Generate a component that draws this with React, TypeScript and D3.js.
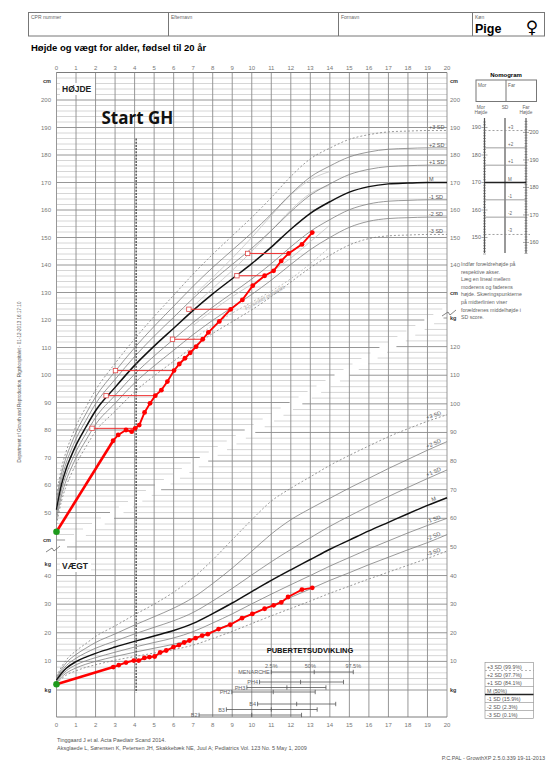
import React, { useEffect, useRef } from 'react'
import * as d3 from 'd3'

// reference curves, girls, height (cm)
const refHeightAges = [0, 0.25, 0.5, 0.75, 1, 1.5, 2, 3, 4, 5, 6, 7, 8, 9, 10, 11, 12, 13, 14, 15, 16, 17, 18, 19, 20]
const heightPlus3 = [56.4, 66.0, 72.3, 77.1, 81.4, 88.2, 94.5, 104.2, 113.1, 121.3, 129.0, 136.7, 143.9, 150.6, 157.3, 164.5, 172.2, 178.6, 182.5, 185.7, 187.4, 188.4, 188.7, 188.9, 188.9]
const heightPlus2 = [54.6, 64.0, 70.2, 74.9, 79.1, 85.8, 92.0, 101.3, 109.9, 117.7, 125.0, 132.3, 139.1, 145.4, 151.7, 158.5, 165.8, 172.0, 176.0, 179.3, 181.1, 182.1, 182.4, 182.6, 182.6]
const heightPlus1 = [52.8, 62.0, 68.1, 72.7, 76.8, 83.4, 89.5, 98.4, 106.7, 114.1, 121.0, 127.9, 134.3, 140.2, 146.1, 152.5, 159.4, 165.4, 169.5, 172.9, 174.8, 175.8, 176.1, 176.3, 176.3]
const heightMedian = [51, 60, 66, 70.5, 74.5, 81, 87, 95.5, 103.5, 110.5, 117, 123.5, 129.5, 135, 140.5, 146.5, 153, 158.8, 163, 166.5, 168.5, 169.5, 169.8, 170, 170]
const heightMinus1 = [49.2, 58.0, 63.9, 68.3, 72.2, 78.6, 84.5, 92.6, 100.3, 106.9, 113.0, 119.1, 124.7, 129.8, 134.9, 140.5, 146.6, 152.2, 156.5, 160.1, 162.2, 163.2, 163.5, 163.7, 163.7]
const heightMinus2 = [47.4, 56.0, 61.8, 66.1, 69.9, 76.2, 82.0, 89.7, 97.1, 103.3, 109.0, 114.7, 119.9, 124.6, 129.3, 134.5, 140.2, 145.6, 150.0, 153.7, 155.9, 156.9, 157.2, 157.4, 157.4]
const heightMinus3 = [45.6, 54.0, 59.7, 63.9, 67.6, 73.8, 79.5, 86.8, 93.9, 99.7, 105.0, 110.3, 115.1, 119.4, 123.7, 128.5, 133.8, 139.0, 143.5, 147.3, 149.6, 150.6, 150.9, 151.1, 151.1]

// early / late puberty tracks (light grey)
const pubertyTrackAges = [7, 8, 9, 10, 11, 12, 13, 14]
const earlyTrackA = [125.0, 131.5, 138.0, 145.0, 152.5, 160.0, 166.0, 169.0]
const earlyTrackB = [128.8, 135.5, 142.5, 150.0, 158.0, 165.5, 171.0, 174.0]
const lateTrackA = [118.0, 123.5, 128.5, 133.0, 137.5, 142.5, 148.5, 154.5]
const lateTrackB = [113.0, 118.0, 122.5, 126.5, 130.5, 135.0, 140.5, 146.5]

// reference curves, girls, weight (kg)
const refWeightAges = [0, 0.25, 0.5, 1, 1.5, 2, 3, 4, 5, 6, 7, 8, 9, 10, 11, 12, 13, 14, 15, 16, 17, 18, 19, 20]
const weightPlus3 = [4.8, 8.0, 10.5, 13.7, 16.2, 18.7, 22.4, 26.3, 30.0, 34.2, 39.2, 45.5, 52.5, 59.5, 66.0, 70.5, 74.5, 78.5, 82.0, 85.3, 88.5, 91.3, 93.9, 96.2]
const weightPlus2 = [4.3, 7.2, 9.5, 12.4, 14.6, 16.6, 19.6, 22.7, 25.6, 28.6, 32.3, 37.2, 42.6, 48.5, 54.5, 59.5, 63.4, 67.0, 70.6, 74.0, 77.4, 80.6, 83.8, 86.8]
const weightPlus1 = [3.8, 6.5, 8.5, 11.1, 13.0, 14.6, 17.1, 19.6, 21.9, 24.2, 27.1, 31.1, 35.5, 40.2, 44.8, 49.1, 53.2, 57.2, 60.8, 64.3, 67.6, 70.8, 73.9, 76.9]
const weightMedian = [3.4, 5.8, 7.6, 9.9, 11.5, 12.8, 15.0, 17.0, 18.9, 20.8, 23.3, 26.7, 30.4, 34.4, 38.3, 42.0, 45.6, 49.2, 52.4, 55.6, 58.6, 61.6, 64.5, 67.2]
const weightMinus1 = [3.0, 5.1, 6.7, 8.8, 10.2, 11.3, 13.2, 15.0, 16.6, 18.2, 20.4, 23.4, 26.6, 30.1, 33.5, 36.8, 40.0, 43.3, 46.3, 49.3, 52.1, 54.9, 57.5, 60.0]
const weightMinus2 = [2.5, 4.5, 5.9, 7.7, 9.0, 10.0, 11.7, 13.2, 14.6, 16.0, 17.9, 20.6, 23.4, 26.5, 29.5, 32.4, 35.3, 38.3, 41.0, 43.8, 46.4, 49.0, 51.5, 54.3]
const weightMinus3 = [2.1, 3.9, 5.2, 6.7, 7.9, 8.8, 10.4, 11.7, 12.9, 14.1, 15.7, 18.0, 20.5, 23.2, 25.9, 28.5, 31.1, 33.8, 36.3, 38.8, 41.2, 43.6, 46.0, 48.6]

const sdLabels = ['+3 SD', '+2 SD', '+1 SD', 'M', '-1 SD', '-2 SD', '-3 SD']
const legendLabels = ['+3 SD (99.9%)', '+2 SD (97.7%)', '+1 SD (84.1%)', 'M (50%)', '-1 SD (15.9%)', '-2 SD (2.3%)', '-3 SD (0.1%)']

// patient measurements
const heightAges = [0, 2.9, 3.16, 3.56, 3.85, 4.03, 4.24, 4.51, 4.79, 5.06, 5.37, 5.68, 6.02, 6.29, 6.58, 6.85, 7.15, 7.49, 7.78, 8.34, 8.92, 9.52, 10.05, 10.66, 11.12, 11.51, 11.89, 12.57, 13.1]
const heightValues = [43.0, 76.1, 78.2, 80.0, 79.4, 80.6, 81.8, 86.4, 89.7, 92.5, 94.5, 97.6, 101.6, 104.0, 106.1, 108.1, 110.3, 113.0, 115.5, 119.5, 123.9, 127.3, 132.5, 136.1, 137.9, 141.5, 144.2, 147.5, 151.8]
const weightAges = [0, 2.91, 3.19, 3.56, 3.96, 4.21, 4.5, 4.76, 5.03, 5.31, 5.62, 5.99, 6.27, 6.54, 6.81, 7.12, 7.46, 7.75, 8.3, 8.9, 9.5, 10.03, 10.66, 11.12, 11.51, 11.86, 12.57, 13.1]
const weightValues = [2.0, 8.0, 8.7, 9.6, 10.3, 10.3, 11.2, 11.5, 11.7, 13.1, 13.8, 15.0, 15.7, 16.6, 17.3, 18.1, 19.0, 19.5, 21.3, 22.8, 25.1, 26.6, 28.4, 29.6, 30.6, 32.5, 35.1, 35.7]

// bone age readings (age at x-ray, bone age, height)
const xrayAges = [4.03, 5.06, 6.02, 7.49, 8.92, 10.66, 11.89]
const boneAges = [1.82, 2.54, 3.02, 5.94, 6.78, 9.24, 9.79]
const xrayHeights = [80.6, 92.5, 101.6, 113.0, 123.9, 136.1, 144.2]

const ghStartAge = 4.08

// puberty development
const pubertyStages = ['MENARCHE', 'PH4', 'PH3', 'PH2', 'B4', 'B3', 'B2']
const puberty025 = [11.0, 10.4, 9.75, 8.98, 10.3, 8.7, 7.3]
const puberty50 = [13.2, 12.5, 11.8, 11.1, 12.3, 11.0, 10.0]
const puberty975 = [15.2, 14.7, 13.8, 13.25, 14.3, 13.35, 12.55]
const pubertyRowY = [672, 682, 687.5, 692, 704, 709.5, 715]

const ageTicks = d3.range(0, 21)
const heightTicks = [200, 190, 180, 170, 160, 150, 140, 130, 120, 110, 100, 90, 80, 70, 60, 50]
const weightTicksLeft = [40, 30, 20, 10]
const weightTicksRight = [120, 110, 100, 90, 80, 70, 60, 50, 40, 30, 20, 10]

const FONT = "'Liberation Sans', Arial, sans-serif"

export default function App() {
  const ref = useRef<SVGSVGElement>(null)

  useEffect(() => {
    const svg = d3.select(ref.current)
    svg.selectAll('*').remove()

    const x = d3.scaleLinear().domain([0, 20]).range([56.5, 447])
    const yH = d3.scaleLinear().domain([40, 210]).range([540, 72.5])
    const yW = d3.scaleLinear().domain([0, 130]).range([690, 318])
    const top = yH(210), bottom = 717

    svg.append('rect').attr('width', 546).attr('height', 761).attr('fill', '#fff')

    // header
    const head = svg.append('g').attr('font-family', FONT)
    head.append('rect').attr('x', 28.5).attr('y', 12.5).attr('width', 516).attr('height', 23.5)
      .attr('fill', 'none').attr('stroke', '#777')
    ;[168.5, 338.5, 472.5].forEach(d => head.append('line').attr('x1', d).attr('x2', d).attr('y1', 12.5).attr('y2', 36).attr('stroke', '#777'))
    ;[['CPR nummer', 31], ['Efternavn', 171], ['Fornavn', 341], ['Køn', 475]].forEach(([t, px]) =>
      head.append('text').attr('x', px).attr('y', 18.5).attr('font-size', 5).attr('fill', '#666').text(t as string))
    head.append('text').attr('x', 475).attr('y', 33).attr('font-size', 12.5).attr('font-weight', 'bold').text('Pige')
    head.append('text').attr('x', 532).attr('y', 33).attr('font-size', 17).attr('text-anchor', 'middle').attr('font-family', "'DejaVu Sans'").text('♀')
    head.append('text').attr('x', 31).attr('y', 51).attr('font-size', 9.5).attr('font-weight', 'bold').text('Højde og vægt for alder, fødsel til 20 år')

    // grid
    const grid = svg.append('g')
    const hLevels = d3.range(40, 211, 2)
    const wLevels = d3.range(0, 131, 2)
    const hEnd = (h: number) => Math.min(20, 2.74 + (h - 50) * 0.23)
    const wStart = (w: number) => Math.max(0, 0.54 + (w - 50) * 0.241)
    const drawLevels = (major: boolean) => {
      hLevels.filter(h => (h % 10 === 0) === major).forEach(h => {
        const e = hEnd(h)
        if (e <= 0) return
        grid.append('line').attr('x1', x(0)).attr('x2', x(e)).attr('y1', yH(h)).attr('y2', yH(h))
          .attr('stroke', major ? '#7c7c7c' : '#d6d6d6').attr('stroke-width', major ? 0.8 : 1)
      })
      wLevels.filter(w => (w % 10 === 0) === major).forEach(w => {
        const s = wStart(w)
        if (s >= 20) return
        grid.append('line').attr('x1', x(s)).attr('x2', x(20)).attr('y1', yW(w)).attr('y2', yW(w))
          .attr('stroke', major ? '#7c7c7c' : '#d6d6d6').attr('stroke-width', major ? 0.8 : 1)
      })
    }
    drawLevels(false)
    drawLevels(true)
    ageTicks.forEach(a => grid.append('line').attr('x1', x(a)).attr('x2', x(a)).attr('y1', top).attr('y2', bottom)
      .attr('stroke', '#8c8c8c').attr('stroke-width', 0.9))
    grid.append('line').attr('x1', x(0)).attr('x2', x(20)).attr('y1', top).attr('y2', top).attr('stroke', '#7c7c7c')
    grid.append('line').attr('x1', x(0)).attr('x2', x(20)).attr('y1', bottom).attr('y2', bottom).attr('stroke', '#7c7c7c')

    // axis labels
    const lab = svg.append('g').attr('font-family', FONT).attr('font-size', 6).attr('fill', '#777')
    ageTicks.forEach(a => {
      lab.append('text').attr('x', x(a)).attr('y', 69.5).attr('text-anchor', 'middle').text(a)
      lab.append('text').attr('x', x(a)).attr('y', 727).attr('text-anchor', 'middle').text(a)
    })
    heightTicks.forEach(h => lab.append('text').attr('x', 51).attr('y', yH(h) + 2).attr('text-anchor', 'end').text(h))
    heightTicks.filter(h => h >= 140).forEach(h => lab.append('text').attr('x', 450).attr('y', yH(h) + 2).text(h))
    weightTicksLeft.forEach(w => lab.append('text').attr('x', 51).attr('y', yW(w) + 2).attr('text-anchor', 'end').text(w))
    weightTicksRight.forEach(w => lab.append('text').attr('x', 450).attr('y', yW(w) + 2).text(w))
    const unit = (t: string, px: number, py: number, anchor: string) =>
      lab.append('text').attr('x', px).attr('y', py + 2).attr('text-anchor', anchor).attr('font-weight', 'bold')
        .attr('fill', '#333').attr('font-size', 5.5).text(t)
    unit('cm', 51, yH(207), 'end')
    unit('cm', 450, yH(207), 'start')
    unit('cm', 51, yH(40), 'end')
    unit('kg', 51, yW(44), 'end')
    unit('cm', 450, yH(130), 'start')
    unit('kg', 450, yW(130), 'start')
    unit('kg', 51, yW(0), 'end')
    unit('kg', 450, yW(0), 'start')

    // axis break marks
    const brk = (cx: number, cy: number) => svg.append('path')
      .attr('d', `M${cx - 7},${cy + 3} L${cx - 1},${cy - 1} L${cx + 1},${cy + 2} L${cx + 7},${cy - 3}`)
      .attr('fill', 'none').attr('stroke', '#666').attr('stroke-width', 0.8)
    brk(53, 549)
    brk(449, 313)

    // section titles
    const boxTitle = (t: string, px: number, py: number, w: number) => {
      svg.append('rect').attr('x', px - 2).attr('y', py - 9).attr('width', w).attr('height', 12).attr('fill', '#fff')
      svg.append('text').attr('x', px).attr('y', py).attr('font-family', FONT).attr('font-size', 8.5)
        .attr('font-weight', 'bold').attr('fill', '#222').text(t)
    }
    boxTitle('HØJDE', 62, 92, 35)
    boxTitle('VÆGT', 62, 569, 31)

    // reference curves
    const styleOf = (i: number) => i === 3
      ? { stroke: '#111', width: 1.5, dash: null }
      : (i === 0 || i === 6)
        ? { stroke: '#808080', width: 0.8, dash: '2,2' }
        : { stroke: '#808080', width: 0.8, dash: null }

    const heightCurves = [heightPlus3, heightPlus2, heightPlus1, heightMedian, heightMinus1, heightMinus2, heightMinus3]
    const weightCurves = [weightPlus3, weightPlus2, weightPlus1, weightMedian, weightMinus1, weightMinus2, weightMinus3]
    const curves = svg.append('g').attr('fill', 'none')

    // light puberty tracks first, underneath
    const tLine = d3.line<number>().x((_, i) => x(pubertyTrackAges[i])).y(d => yH(d)).curve(d3.curveMonotoneX)
    ;[earlyTrackA, earlyTrackB, lateTrackA].forEach(t =>
      curves.append('path').attr('d', tLine(t)).attr('stroke', '#c4c4c4').attr('stroke-width', 0.8))
    curves.append('path').attr('d', tLine(lateTrackB)).attr('stroke', '#b0b0b0').attr('stroke-width', 0.8)
      .attr('stroke-dasharray', '2,2')

    const hLine = d3.line<number>().x((_, i) => x(refHeightAges[i])).y(d => yH(d)).curve(d3.curveMonotoneX)
    const wLine = d3.line<number>().x((_, i) => x(refWeightAges[i])).y(d => yW(d)).curve(d3.curveMonotoneX)
    heightCurves.forEach((c, i) => {
      const s = styleOf(i)
      curves.append('path').attr('d', hLine(c)).attr('stroke', s.stroke).attr('stroke-width', s.width)
        .attr('stroke-dasharray', s.dash)
    })
    weightCurves.forEach((c, i) => {
      const s = styleOf(i)
      curves.append('path').attr('d', wLine(c)).attr('stroke', s.stroke).attr('stroke-width', s.width)
        .attr('stroke-dasharray', s.dash)
    })

    const cl = svg.append('g').attr('font-family', FONT).attr('font-size', 5.5).attr('fill', '#555')
    heightCurves.forEach((c, i) => {
      cl.append('text').attr('x', 429).attr('y', yH(c[c.length - 1]) - 1.2).text(sdLabels[i])
    })
    weightCurves.forEach((c, i) => {
      const n = c.length
      const a0 = refWeightAges[n - 2], a1 = refWeightAges[n - 1]
      const ang = Math.atan2(yW(c[n - 1]) - yW(c[n - 2]), x(a1) - x(a0)) * 180 / Math.PI
      const la = 19.35
      const ly = yW(c[n - 2] + (c[n - 1] - c[n - 2]) * (la - a0) / (a1 - a0)) - 2
      cl.append('text').attr('transform', `translate(${x(la)},${ly}) rotate(${ang})`)
        .attr('text-anchor', 'middle').text(sdLabels[i])
    })
    // label along the late puberty track
    {
      const a0 = 10, a1 = 11, i0 = pubertyTrackAges.indexOf(a0)
      const ang = Math.atan2(yH(lateTrackB[i0 + 1]) - yH(lateTrackB[i0]), x(a1) - x(a0)) * 180 / Math.PI
      const mx = x(10.7), my = yH(lateTrackB[i0] + (lateTrackB[i0 + 1] - lateTrackB[i0]) * 0.7) + 5
      cl.append('text').attr('transform', `translate(${mx},${my}) rotate(${ang})`).attr('text-anchor', 'middle')
        .attr('fill', '#aaa').attr('font-style', 'italic').text('Forsinket pubertet')
    }

    // GH start
    svg.append('line').attr('x1', x(ghStartAge)).attr('x2', x(ghStartAge)).attr('y1', yH(186)).attr('y2', yW(-0.8))
      .attr('stroke', '#444').attr('stroke-width', 1.3).attr('stroke-dasharray', '2,1.2')
    svg.append('text').attr('x', 101.5).attr('y', 124).attr('font-family', "'Open Sans', sans-serif")
      .attr('font-size', 17).attr('font-weight', 'bold').attr('fill', '#111').text('Start GH')

    // puberty
    const pub = svg.append('g').attr('font-family', FONT)
    pub.append('text').attr('x', 310).attr('y', 653).attr('text-anchor', 'middle').attr('font-size', 7.5)
      .attr('font-weight', 'bold').attr('fill', '#111').text('PUBERTETSUDVIKLING')
    const pl = pub.append('g').attr('font-size', 5.5).attr('fill', '#666')
    pl.append('text').attr('x', x(puberty025[0])).attr('y', 668).attr('text-anchor', 'middle').text('2.5%')
    pl.append('text').attr('x', x(13.0)).attr('y', 668).attr('text-anchor', 'middle').text('50%')
    pl.append('text').attr('x', x(puberty975[0])).attr('y', 668).attr('text-anchor', 'middle').text('97.5%')
    pubertyStages.forEach((s, i) => {
      const py = pubertyRowY[i]
      const g = pub.append('g').attr('stroke', '#555').attr('stroke-width', 0.8)
      g.append('line').attr('x1', x(puberty025[i])).attr('x2', x(puberty975[i])).attr('y1', py).attr('y2', py)
      ;[puberty025[i], puberty50[i], puberty975[i]].forEach(a =>
        g.append('line').attr('x1', x(a)).attr('x2', x(a)).attr('y1', py - 2.2).attr('y2', py + 2.2))
      pl.append('text').attr('x', x(puberty025[i]) - 1.5).attr('y', py + 2).attr('text-anchor', 'end').text(s)
    })

    // patient: height
    const red = '#ff0000'
    const pts = svg.append('g')
    xrayAges.forEach((a, i) => {
      pts.append('line').attr('x1', x(boneAges[i])).attr('x2', x(a)).attr('y1', yH(xrayHeights[i])).attr('y2', yH(xrayHeights[i]))
        .attr('stroke', '#f03030').attr('stroke-width', 1)
    })
    const hp = heightAges.map((a, i) => [x(a), yH(heightValues[i])] as [number, number])
    pts.append('path').attr('d', d3.line()(hp.slice(0, 2))).attr('fill', 'none').attr('stroke', red).attr('stroke-width', 2.6)
    pts.append('path').attr('d', d3.line()(hp.slice(1))).attr('fill', 'none').attr('stroke', red).attr('stroke-width', 1.9)
    hp.slice(1).forEach(p => pts.append('circle').attr('cx', p[0]).attr('cy', p[1]).attr('r', 2.4).attr('fill', red))
    xrayAges.forEach((a, i) => {
      pts.append('rect').attr('x', x(boneAges[i]) - 2.2).attr('y', yH(xrayHeights[i]) - 2.2).attr('width', 4.4).attr('height', 4.4)
        .attr('fill', '#fff').attr('stroke', '#e04848').attr('stroke-width', 0.8)
    })
    // patient: weight
    const wp = weightAges.map((a, i) => [x(a), yW(weightValues[i])] as [number, number])
    pts.append('path').attr('d', d3.line()(wp.slice(0, 2))).attr('fill', 'none').attr('stroke', red).attr('stroke-width', 2.6)
    pts.append('path').attr('d', d3.line()(wp.slice(1))).attr('fill', 'none').attr('stroke', red).attr('stroke-width', 1.9)
    wp.slice(1).forEach(p => pts.append('circle').attr('cx', p[0]).attr('cy', p[1]).attr('r', 2.4).attr('fill', red))
    pts.append('circle').attr('cx', hp[0][0]).attr('cy', hp[0][1]).attr('r', 3.3).attr('fill', '#1d9a1d')
    pts.append('circle').attr('cx', wp[0][0]).attr('cy', wp[0][1]).attr('r', 3.3).attr('fill', '#1d9a1d')

    // nomogram
    const nomo = svg.append('g').attr('font-family', FONT)
    nomo.append('text').attr('x', 506).attr('y', 77).attr('text-anchor', 'middle').attr('font-size', 6)
      .attr('font-weight', 'bold').text('Nomogram')
    nomo.append('rect').attr('x', 476).attr('y', 80).attr('width', 60.5).attr('height', 21.5).attr('fill', 'none').attr('stroke', '#777')
    nomo.append('line').attr('x1', 506).attr('x2', 506).attr('y1', 80).attr('y2', 101.5).attr('stroke', '#777')
    const nt = nomo.append('g').attr('font-size', 4.8).attr('fill', '#666')
    nt.append('text').attr('x', 478).attr('y', 86.5).text('Mor')
    nt.append('text').attr('x', 508).attr('y', 86.5).text('Far')
    nt.append('text').attr('x', 481).attr('y', 108.5).attr('text-anchor', 'middle').text('Mor')
    nt.append('text').attr('x', 481).attr('y', 113.5).attr('text-anchor', 'middle').text('Højde')
    nt.append('text').attr('x', 505).attr('y', 108.5).attr('text-anchor', 'middle').text('SD')
    nt.append('text').attr('x', 526).attr('y', 108.5).attr('text-anchor', 'middle').text('Far')
    nt.append('text').attr('x', 526).attr('y', 113.5).attr('text-anchor', 'middle').text('Højde')
    const xMor = 484.5, xSd = 505, xFar = 526
    const yFar = (h: number) => yH(h - 11.8)
    ;[xMor, xSd, xFar].forEach(px => nomo.append('line').attr('x1', px).attr('x2', px).attr('y1', 118).attr('y2', 253)
      .attr('stroke', '#555').attr('stroke-width', 1.2))
    d3.range(144, 193).forEach(h => {
      const big = h % 10 === 0
      nomo.append('line').attr('x1', xMor - (big ? 3 : 1.5)).attr('x2', xMor + (big ? 3 : 1.5))
        .attr('y1', yH(h)).attr('y2', yH(h)).attr('stroke', '#555').attr('stroke-width', 0.5)
      if (big) nt.append('text').attr('x', xMor - 3.5).attr('y', yH(h) + 1.8).attr('text-anchor', 'end').attr('font-size', 5.5).text(h)
    })
    d3.range(156, 205).forEach(h => {
      const big = h % 10 === 0
      nomo.append('line').attr('x1', xFar - (big ? 3 : 1.5)).attr('x2', xFar + (big ? 3 : 1.5))
        .attr('y1', yFar(h)).attr('y2', yFar(h)).attr('stroke', '#555').attr('stroke-width', 0.5)
      if (big) nt.append('text').attr('x', xFar + 3.5).attr('y', yFar(h) + 1.8).attr('font-size', 5.5).text(h)
    })
    const nomoSd = ['+3', '+2', '+1', 'M', '-1', '-2', '-3']
    heightCurves.forEach((c, i) => {
      const s = styleOf(i)
      const py = yH(c[c.length - 1])
      nomo.append('line').attr('x1', xMor).attr('x2', xFar + (s.dash ? 4 : 0)).attr('y1', py).attr('y2', py)
        .attr('stroke', i === 3 ? '#222' : '#888').attr('stroke-width', i === 3 ? 1.6 : 0.8).attr('stroke-dasharray', s.dash)
      nt.append('text').attr('x', 508).attr('y', py - 2).attr('font-size', 4.5).text(nomoSd[i])
    })
    const help = ['Indfør forældrehøjde på', 'respektive akser.', 'Læg en lineal mellem', 'moderens og faderens',
      'højde. Skæringspunkterne', 'på midterlinien viser', 'forældrenes middelhøjde i', 'SD score.']
    help.forEach((t, i) => nt.append('text').attr('x', 461).attr('y', 266 + i * 7.6).attr('font-size', 5.2).text(t))

    // legend
    const leg = svg.append('g').attr('font-family', FONT)
    leg.append('rect').attr('x', 485).attr('y', 662.5).attr('width', 48.5).attr('height', 56).attr('fill', 'none').attr('stroke', '#888').attr('stroke-width', 0.6)
    legendLabels.forEach((t, i) => {
      const s = styleOf(i)
      const ry = 662.5 + (i + 1) * 8
      leg.append('text').attr('x', 487).attr('y', ry - 1.8).attr('font-size', 5.3).attr('fill', '#555').text(t)
      if (i < 6) leg.append('line').attr('x1', 485).attr('x2', 533.5).attr('y1', ry).attr('y2', ry)
        .attr('stroke', i === 3 ? '#222' : '#888').attr('stroke-width', i === 3 ? 1.5 : 0.6).attr('stroke-dasharray', s.dash)
    })

    // footer
    const ft = svg.append('g').attr('font-family', FONT).attr('font-size', 5.5).attr('fill', '#555')
    ft.append('text').attr('x', 57).attr('y', 742).text('Tinggaard J et al. Acta Paediatr Scand 2014.')
    ft.append('text').attr('x', 57).attr('y', 749.5).text('Aksglaede L, Sørensen K, Petersen JH, Skakkebæk NE, Juul A; Pediatrics Vol. 123 No. 5 May 1, 2009')
    ft.append('text').attr('x', 545).attr('y', 759.5).attr('text-anchor', 'end').text('P.C.PAL - GrowthXP 2.5.0.339 19-11-2013')
    ft.append('text').attr('transform', 'translate(20.5,382) rotate(-90)').attr('text-anchor', 'middle').attr('font-size', 4.6)
      .text('Department of Growth and Reproduction, Rigshospitalet - 01-12-2013 16:17:10')
  }, [])

  return (
    <svg ref={ref} width={546} height={761} style={{ position: 'absolute', left: 0, top: 0, display: 'block' }} />
  )
}
